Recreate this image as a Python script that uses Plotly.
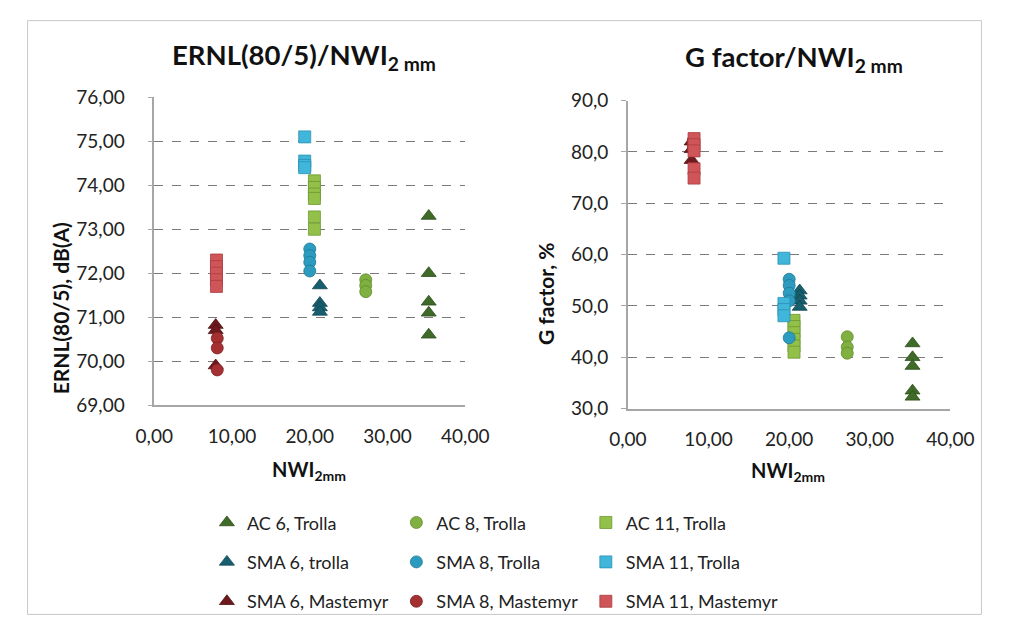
import plotly.graph_objects as go

# ---------------- data ----------------
series_names = ["AC 6, Trolla", "AC 8, Trolla", "AC 11, Trolla",
                "SMA 6, trolla", "SMA 8, Trolla", "SMA 11, Trolla",
                "SMA 6, Mastemyr", "SMA 8, Mastemyr", "SMA 11, Mastemyr"]

# Left chart: ERNL(80/5) vs NWI 2mm
ernl_nwi = {
    "AC 6, Trolla":     [35.3, 35.3, 35.3, 35.3, 35.3],
    "AC 8, Trolla":     [27.2, 27.2, 27.2],
    "AC 11, Trolla":    [20.6, 20.6, 20.6, 20.6, 20.6, 20.6],
    "SMA 6, trolla":    [21.3, 21.3, 21.3, 21.3],
    "SMA 8, Trolla":    [20.0, 20.0, 20.0, 20.0],
    "SMA 11, Trolla":   [19.35, 19.35, 19.35, 19.35],
    "SMA 6, Mastemyr":  [7.9, 7.9, 7.9],
    "SMA 8, Mastemyr":  [8.1, 8.1, 8.1],
    "SMA 11, Mastemyr": [8.0, 8.0, 8.0, 8.0, 8.0],
}
ernl_val = {
    "AC 6, Trolla":     [73.3, 72.0, 71.35, 71.1, 70.6],
    "AC 8, Trolla":     [71.85, 71.72, 71.58],
    "AC 11, Trolla":    [74.1, 73.95, 73.8, 73.7, 73.28, 73.0],
    "SMA 6, trolla":    [71.72, 71.32, 71.22, 71.12],
    "SMA 8, Trolla":    [72.55, 72.4, 72.25, 72.05],
    "SMA 11, Trolla":   [75.1, 74.55, 74.45, 74.4],
    "SMA 6, Mastemyr":  [70.82, 70.7, 69.9],
    "SMA 8, Mastemyr":  [70.52, 70.3, 69.8],
    "SMA 11, Mastemyr": [72.3, 72.15, 72.0, 71.85, 71.7],
}

# Right chart: G factor vs NWI 2mm
g_nwi = {
    "AC 6, Trolla":     [35.3, 35.3, 35.3, 35.3, 35.3],
    "AC 8, Trolla":     [27.2, 27.2, 27.2],
    "AC 11, Trolla":    [20.6, 20.6, 20.6, 20.6, 20.6, 20.6],
    "SMA 6, trolla":    [21.3, 21.3, 21.3, 21.3],
    "SMA 8, Trolla":    [20.0, 20.0, 20.0, 20.0, 20.0],
    "SMA 11, Trolla":   [19.35, 19.35, 19.35, 19.35],
    "SMA 6, Mastemyr":  [7.9, 7.9, 7.9],
    "SMA 8, Mastemyr":  [8.1, 8.1, 8.1],
    "SMA 11, Mastemyr": [8.2, 8.2, 8.2, 8.2, 8.2],
}
g_val = {
    "AC 6, Trolla":     [42.7, 40.0, 38.3, 33.5, 32.3],
    "AC 8, Trolla":     [44.0, 42.0, 40.8],
    "AC 11, Trolla":    [47.2, 46.0, 44.8, 43.5, 42.2, 41.0],
    "SMA 6, trolla":    [53.0, 52.0, 51.0, 49.8],
    "SMA 8, Trolla":    [55.2, 54.0, 52.5, 51.0, 43.8],
    "SMA 11, Trolla":   [59.3, 50.5, 49.3, 48.1],
    "SMA 6, Mastemyr":  [78.4, 80.5, 82.0],
    "SMA 8, Mastemyr":  [80.6, 81.5, 82.2],
    "SMA 11, Mastemyr": [82.6, 81.4, 80.2, 76.7, 74.9],
}

x_ticks = [0, 10, 20, 30, 40]
ernl_ticks = [69, 70, 71, 72, 73, 74, 75, 76]
g_ticks = [30, 40, 50, 60, 70, 80, 90]

# ---------------- styles ----------------
style = {
    "AC 6, Trolla":     dict(symbol="triangle-up", color="#3f6b28", line="#2c4d1c", size=13),
    "AC 8, Trolla":     dict(symbol="circle", color="#80b040", line="#5f8a2c", size=12),
    "AC 11, Trolla":    dict(symbol="square", color="#92c048", line="#6e9834", size=12),
    "SMA 6, trolla":    dict(symbol="triangle-up", color="#175f6e", line="#0f4450", size=13),
    "SMA 8, Trolla":    dict(symbol="circle", color="#2b9cbf", line="#1f7896", size=12),
    "SMA 11, Trolla":   dict(symbol="square", color="#40b6da", line="#2c91b2", size=12),
    "SMA 6, Mastemyr":  dict(symbol="triangle-up", color="#6e1a1c", line="#4e1012", size=13),
    "SMA 8, Mastemyr":  dict(symbol="circle", color="#a53032", line="#7d2022", size=12),
    "SMA 11, Mastemyr": dict(symbol="square", color="#cf5558", line="#a93d40", size=12),
}
legend_of = {
    "AC 6, Trolla": "legend", "SMA 6, trolla": "legend", "SMA 6, Mastemyr": "legend",
    "AC 8, Trolla": "legend2", "SMA 8, Trolla": "legend2", "SMA 8, Mastemyr": "legend2",
    "AC 11, Trolla": "legend3", "SMA 11, Trolla": "legend3", "SMA 11, Mastemyr": "legend3",
}

FONT = "Lato, Carlito, Calibri, sans-serif"
# the page body keeps its default 8px margin, so the figure fills the rest of the window
OFF = 8
W, H = 1014 - 2 * OFF, 634 - 2 * OFF

fig = go.Figure()
for name in series_names:
    s = style[name]
    mk = dict(symbol=s["symbol"], size=s["size"], color=s["color"],
              line=dict(color=s["line"], width=0.8))
    fig.add_trace(go.Scatter(x=ernl_nwi[name], y=ernl_val[name], mode="markers",
                             name=name, legendgroup=name, legend=legend_of[name],
                             marker=mk, xaxis="x", yaxis="y", showlegend=True))
for name in series_names:
    s = style[name]
    mk = dict(symbol=s["symbol"], size=s["size"], color=s["color"],
              line=dict(color=s["line"], width=0.8))
    fig.add_trace(go.Scatter(x=g_nwi[name], y=g_val[name], mode="markers",
                             name=name, legendgroup=name, legend=legend_of[name],
                             marker=mk, xaxis="x2", yaxis="y2", showlegend=False))


def px_x(p):
    return (p - OFF) / W


def px_y(p):
    return (OFF + H - p) / H


tickfont = dict(family=FONT, size=19, color="#222222")
grid = dict(showgrid=True, gridcolor="#7a7a7a", griddash="dash", gridwidth=1)
axline = dict(showline=True, linecolor="#a6a6a6", linewidth=1.5)

fig.update_layout(
    width=W, height=H,
    margin=dict(l=0, r=0, t=0, b=0),
    paper_bgcolor="white", plot_bgcolor="white",
    separators=",.",
    font=dict(family=FONT, size=19, color="#222222"),
    xaxis=dict(domain=[px_x(141), px_x(466)], range=[0, 40], tickvals=x_ticks,
               tickformat=".2f", showgrid=False, zeroline=False, **axline,
               ticks="", tickfont=tickfont, ticklabelstandoff=13, anchor="y"),
    yaxis=dict(domain=[px_y(408), px_y(88.3)], range=[69, 76], tickvals=ernl_ticks,
               tickformat=".2f", zeroline=False, **axline, **grid,
               ticks="outside", ticklen=5, tickcolor="#a6a6a6",
               tickfont=tickfont, ticklabelstandoff=19, anchor="x"),
    xaxis2=dict(domain=[px_x(636), px_x(973)], range=[0, 40], tickvals=x_ticks,
                tickformat=".2f", showgrid=False, zeroline=False, **axline,
                ticks="", tickfont=tickfont, ticklabelstandoff=13, anchor="y2"),
    yaxis2=dict(domain=[px_y(411.7), px_y(91.7)], range=[30, 90], tickvals=g_ticks,
                tickformat=".1f", zeroline=False, **axline, **grid,
                ticks="outside", ticklen=5, tickcolor="#a6a6a6",
                tickfont=tickfont, ticklabelstandoff=9, anchor="x2"),
    showlegend=True,
)

legend_common = dict(orientation="v", bgcolor="rgba(0,0,0,0)", borderwidth=0,
                     font=dict(family=FONT, size=18, color="#222222"),
                     tracegroupgap=13, itemwidth=30, xanchor="left", yanchor="top",
                     itemclick=False, itemdoubleclick=False)
fig.update_layout(
    legend=dict(x=px_x(196), y=px_y(511), **legend_common),
    legend2=dict(x=px_x(394), y=px_y(511), **legend_common),
    legend3=dict(x=px_x(592), y=px_y(511), **legend_common),
)

annotations = [
    dict(text="<b>ERNL(80/5)/NWI<sub>2 mm</sub></b>", x=px_x(297), y=px_y(46),
         font=dict(family=FONT, size=27.5, color="#111111")),
    dict(text="<b>G factor/NWI<sub>2 mm</sub></b>", x=px_x(810), y=px_y(48),
         font=dict(family=FONT, size=27.5, color="#111111")),
    dict(text="<b>NWI<sub>2mm</sub></b>", x=px_x(303), y=px_y(476),
         font=dict(family=FONT, size=20, color="#111111")),
    dict(text="<b>NWI<sub>2mm</sub></b>", x=px_x(803), y=px_y(477),
         font=dict(family=FONT, size=20, color="#111111")),
    dict(text="<b>ERNL(80/5), dB(A)</b>", x=px_x(43), y=px_y(307), textangle=-90,
         font=dict(family=FONT, size=21, color="#111111")),
    dict(text="<b>G factor, %</b>", x=px_x(550), y=px_y(292), textangle=-90,
         font=dict(family=FONT, size=21, color="#111111")),
]
for a in annotations:
    a.update(xref="paper", yref="paper", showarrow=False, xanchor="center", yanchor="middle")
fig.update_layout(annotations=annotations)

fig.add_shape(type="rect", xref="paper", yref="paper",
              x0=0.0006, x1=0.9994, y0=0.001, y1=0.999,
              line=dict(color="#c8c8c8", width=1), fillcolor="rgba(0,0,0,0)", layer="below")

fig.write_html("out.html", config={"displayModeBar": False})
